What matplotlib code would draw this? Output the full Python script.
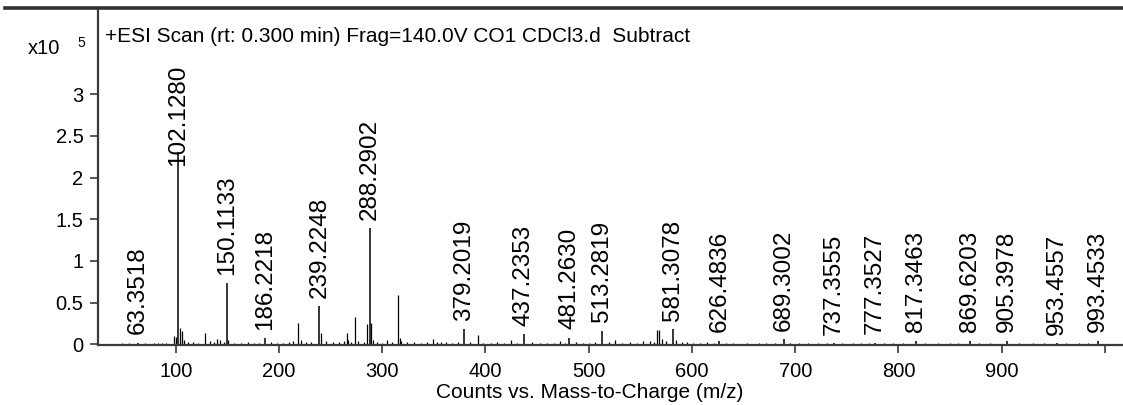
import matplotlib.pyplot as plt
from matplotlib.lines import Line2D

plt.rcParams['font.family'] = ['Liberation Sans', 'DejaVu Sans']

# labelled peaks: m/z and intensity (x10^5 counts)
label_mz = [63.3518, 102.1280, 150.1133, 186.2218, 239.2248, 288.2902,
            379.2019, 437.2353, 481.2630, 513.2819, 581.3078, 626.4836,
            689.3002, 737.3555, 777.3527, 817.3463, 869.6203, 905.3978,
            953.4557, 993.4533]
label_int = [0.02, 2.31, 0.73, 0.07, 0.46, 1.39,
             0.18, 0.12, 0.08, 0.16, 0.18, 0.04,
             0.06, 0.01, 0.02, 0.04, 0.04, 0.04,
             0.01, 0.04]

# other (unlabelled) peaks
other_mz = [48, 55, 70, 79, 83, 87, 91, 98, 100, 104, 106, 108, 112, 117,
            122, 128, 133, 137, 140, 143, 147, 151, 156, 163, 170, 176, 181,
            192, 198, 204, 210, 214, 218, 221, 226, 231, 241, 246, 252, 258,
            263, 265.6, 267, 270, 274, 277, 282, 285, 289, 291, 295, 300,
            304.6, 309, 315, 317, 318, 324, 331, 338, 343, 349, 353, 357, 362,
            368, 373, 385, 392.5, 398, 405, 411, 418, 425, 431, 445, 453, 460,
            466, 472, 477, 488, 494, 500, 506, 520, 525, 532, 540, 547, 553,
            559, 563, 566, 568, 571, 575, 585, 590, 595, 601, 608, 615, 621,
            633, 640, 653, 665, 672, 680, 695, 704, 712, 722, 731, 745, 756,
            764, 771, 786, 795, 804, 826, 838, 850, 858, 878, 889, 917, 930,
            941, 962, 975, 984]
other_int = [0.01, 0.01, 0.01, 0.02, 0.02, 0.01, 0.02, 0.10, 0.09, 0.19,
             0.16, 0.05, 0.03, 0.03, 0.02, 0.14, 0.04, 0.03, 0.06, 0.05,
             0.03, 0.05, 0.02, 0.02, 0.03, 0.02, 0.02, 0.03, 0.02, 0.02,
             0.03, 0.04, 0.25, 0.05, 0.03, 0.03, 0.13, 0.04, 0.03, 0.03,
             0.04, 0.13, 0.05, 0.03, 0.33, 0.04, 0.03, 0.24, 0.25, 0.05,
             0.03, 0.02, 0.05, 0.03, 0.59, 0.08, 0.04, 0.03, 0.03, 0.02,
             0.03, 0.06, 0.03, 0.03, 0.03, 0.02, 0.03, 0.03, 0.11, 0.02,
             0.02, 0.03, 0.02, 0.05, 0.02, 0.03, 0.02, 0.02, 0.02, 0.04,
             0.02, 0.03, 0.02, 0.02, 0.03, 0.03, 0.05, 0.02, 0.03, 0.02,
             0.04, 0.04, 0.03, 0.17, 0.17, 0.06, 0.04, 0.05, 0.03, 0.03,
             0.02, 0.02, 0.03, 0.02, 0.02, 0.01, 0.02, 0.02, 0.01, 0.01,
             0.02, 0.01, 0.01, 0.01, 0.01, 0.01, 0.01, 0.02, 0.01, 0.01,
             0.01, 0.01, 0.01, 0.01, 0.01, 0.01, 0.01, 0.01, 0.01, 0.01,
             0.01, 0.01, 0.01, 0.01]

x_ticks = [100, 200, 300, 400, 500, 600, 700, 800, 900]
y_ticks = [0, 0.5, 1, 1.5, 2, 2.5, 3]
y_tick_labels = ['0', '0.5', '1', '1.5', '2', '2.5', '3']

title = '+ESI Scan (rt: 0.300 min) Frag=140.0V CO1 CDCl3.d  Subtract'
xlabel = 'Counts vs. Mass-to-Charge (m/z)'

W, H = 1123, 405
fig = plt.figure(figsize=(W / 100, H / 100), dpi=100)
ax = fig.add_axes([98 / W, 60 / H, 1 - 98 / W, 335 / H])

spine_col = '#3a3a3a'
ax.vlines(other_mz, 0, other_int, color='black', lw=0.9)
ax.vlines(label_mz, 0, label_int, color='black', lw=1.1)

for mz, h in zip(label_mz, label_int):
    off = -10 if h > 2 else 6
    ax.annotate(f'{mz:.4f}', (mz, h), xytext=(0, off), textcoords='offset points',
                rotation=90, ha='center', va='bottom', fontsize=17.5)

ax.set_xlim(24.7, 1017.5)
ax.set_ylim(-0.01, 4.01)
ax.set_xticks(x_ticks + [1000])
ax.set_xticklabels([str(t) for t in x_ticks] + [''])
ax.set_yticks(y_ticks)
ax.set_yticklabels(y_tick_labels)
ax.tick_params(labelsize=14.5, length=5.5, width=1.2, color=spine_col)
ax.tick_params(axis='x', pad=7)
ax.tick_params(axis='y', pad=5)

for s in ['top', 'right']:
    ax.spines[s].set_visible(False)
for s in ['left', 'bottom']:
    ax.spines[s].set_color(spine_col)
    ax.spines[s].set_linewidth(1.6)

fig.text(590 / W, 1 - 392 / H, xlabel, fontsize=15, ha='center', va='center')
fig.text(105 / W, 1 - 42 / H, title, fontsize=15, ha='left', va='baseline')

fig.text(28 / W, 1 - 48 / H, 'x10', fontsize=14.5, ha='left', va='center')
fig.text(77 / W, 1 - 43 / H, '5', fontsize=10, ha='left', va='center')

fig.add_artist(Line2D([5 / W, 1], [1 - 8 / H, 1 - 8 / H],
                      transform=fig.transFigure, color='#333333', lw=2.6))

fig.savefig('out.png', dpi=100)
